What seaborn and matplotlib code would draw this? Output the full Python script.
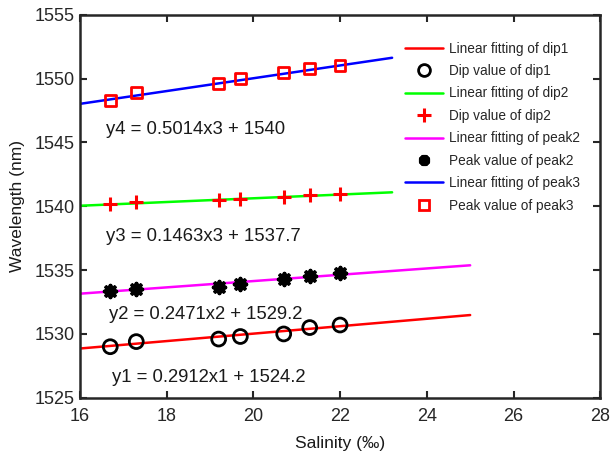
import matplotlib
matplotlib.use("Agg")
import matplotlib.pyplot as plt
import seaborn as sns
import numpy as np
import pandas as pd
from matplotlib.lines import Line2D

# ---- data ----
salinity = [16.7, 17.3, 19.2, 19.7, 20.7, 21.3, 22.0]
dip1 = [1529.0, 1529.4, 1529.6, 1529.8, 1530.0, 1530.5, 1530.7]
dip2 = [1540.2, 1540.3, 1540.5, 1540.6, 1540.7, 1540.9, 1541.0]
peak2 = [1533.4, 1533.5, 1533.7, 1533.9, 1534.3, 1534.5, 1534.8]
peak3 = [1548.3, 1548.9, 1549.6, 1550.0, 1550.5, 1550.8, 1551.0]

fit_names = ["dip1", "dip2", "peak2", "peak3"]
fit_slopes = [0.2912, 0.1463, 0.2471, 0.5014]
fit_intercepts = [1524.2, 1537.7, 1529.2, 1540.0]
fit_x_start = [16.0, 16.0, 16.0, 16.0]
fit_x_end = [25.0, 23.2, 25.0, 23.2]

equations = ["y1 = 0.2912x1 + 1524.2", "y3 = 0.1463x3 + 1537.7",
             "y2 = 0.2471x2 + 1529.2", "y4 = 0.5014x3 + 1540"]
eq_x = [16.73, 16.6, 16.68, 16.6]
eq_y = [1526.55, 1537.64, 1531.5, 1546.0]

sns.set_theme(style="ticks")
plt.rcParams['font.family'] = ['Liberation Sans', 'DejaVu Sans']

fig = plt.figure(figsize=(6.1, 4.62), dpi=100)
ax = fig.add_axes([0.131, 0.139, 0.853, 0.829])

fit_colors = ["#ff0000", "#00ff00", "#ff00ff", "#0000ff"]
series = [dip1, dip2, peak2, peak3]
marker_specs = [
    dict(marker="o", s=100, facecolors="none", edgecolors="black", linewidths=2.0),
    dict(marker="+", s=110, color="#ff0000", linewidths=2.2),
    dict(marker=(8, 2, 0), s=70, color="black", linewidths=2.8),
    dict(marker="s", s=60, facecolors="none", edgecolors="#ff0000", linewidths=2.0),
]

handles = []
labels = []
legend_labels = [("Linear fitting of dip1", "Dip value of dip1"),
                 ("Linear fitting of dip2", "Dip value of dip2"),
                 ("Linear fitting of peak2", "Peak value of peak2"),
                 ("Linear fitting of peak3", "Peak value of peak3")]
legend_markers = [
    dict(marker="o", markersize=8.5, markerfacecolor="none", markeredgecolor="black", markeredgewidth=2.0),
    dict(marker="+", markersize=9.5, color="#ff0000", markeredgewidth=2.2),
    dict(marker=(8, 2, 0), markersize=8, color="black", markeredgewidth=2.8),
    dict(marker="s", markersize=7, markerfacecolor="none", markeredgecolor="#ff0000", markeredgewidth=2.0),
]

for i in range(4):
    xs = np.array([fit_x_start[i], fit_x_end[i]])
    ys = fit_slopes[i] * xs + fit_intercepts[i]
    df_fit = pd.DataFrame({"x": xs, "y": ys})
    sns.lineplot(data=df_fit, x="x", y="y", ax=ax, color=fit_colors[i], linewidth=1.8, zorder=2)
    df_pts = pd.DataFrame({"x": salinity, "y": series[i]})
    sns.scatterplot(data=df_pts, x="x", y="y", ax=ax, zorder=3, **marker_specs[i])
    handles.append(Line2D([], [], color=fit_colors[i], linewidth=1.8))
    labels.append(legend_labels[i][0])
    handles.append(Line2D([], [], linestyle="none", **legend_markers[i]))
    labels.append(legend_labels[i][1])

for t, x, y in zip(equations, eq_x, eq_y):
    ax.text(x, y, t, fontsize=13.3, ha="left", va="center", color="#1a1a1a")

ax.set_xlim(16, 28)
ax.set_ylim(1525, 1555)
ax.set_xticks(range(16, 29, 2))
ax.set_yticks(range(1525, 1556, 5))
ax.tick_params(direction="in", length=5, width=1.5, labelsize=13, colors="#262626",
               top=True, right=True)
ax.tick_params(axis="x", pad=7)
ax.tick_params(axis="y", pad=4)
for sp in ax.spines.values():
    sp.set_linewidth(1.8)
    sp.set_color("#262626")
ax.set_xlabel("Salinity (‰)", fontsize=12.5, color="#1a1a1a", labelpad=8)
ax.set_ylabel("Wavelength (nm)", fontsize=12.5, color="#1a1a1a", labelpad=7)

leg = ax.legend(handles, labels, loc="upper left", bbox_to_anchor=(0.625, 0.93),
                frameon=False, fontsize=9.8, handlelength=2.8, handletextpad=0.4,
                labelspacing=0.62, borderaxespad=0, borderpad=0)

fig.savefig("out.png", dpi=100)
